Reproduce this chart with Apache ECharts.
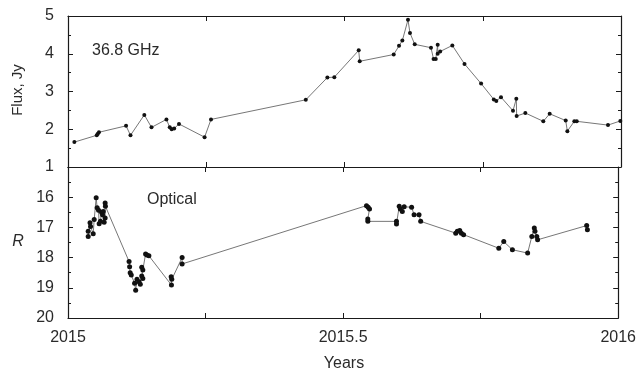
<!DOCTYPE html>
<html>
<head>
<meta charset="utf-8">
<script src="https://cdn.jsdelivr.net/npm/echarts@6/dist/echarts.min.js"></script>
<style>
  html, body { margin: 0; padding: 0; background: #fff; }
  #chart { width: 639px; height: 373px; }
</style>
</head>
<body>
<div id="chart"></div>
<script>
// 36.8 GHz flux density (Jy)
const fluxYears = [
  2015.0115, 2015.052, 2015.054, 2015.056, 2015.105, 2015.113, 2015.138, 2015.151,
  2015.178, 2015.184, 2015.1875, 2015.192, 2015.2007, 2015.247, 2015.2586,
  2015.430, 2015.469, 2015.4816, 2015.5257, 2015.5275, 2015.589, 2015.5986,
  2015.6046, 2015.6148, 2015.6184, 2015.627, 2015.6564, 2015.661, 2015.665,
  2015.6685, 2015.6685, 2015.673, 2015.695, 2015.717, 2015.747, 2015.770,
  2015.7745, 2015.783, 2015.8047, 2015.8107, 2015.8113, 2015.827, 2015.8595,
  2015.871, 2015.900, 2015.903, 2015.9156, 2015.920, 2015.9765, 2015.9988
];
const fluxJy = [
  1.66, 1.84, 1.88, 1.92, 2.09, 1.84, 2.38, 2.05,
  2.26, 2.05, 2.00, 2.02, 2.14, 1.79, 2.26,
  2.78, 3.37, 3.38, 4.09, 3.80, 3.98, 4.21,
  4.35, 4.90, 4.55, 4.25, 4.16, 3.86, 3.86,
  4.24, 4.00, 4.06, 4.22, 3.73, 3.21, 2.79,
  2.75, 2.85, 2.49, 2.81, 2.35, 2.43, 2.21,
  2.41, 2.23, 1.95, 2.21, 2.21, 2.11, 2.22
];

// optical R magnitude
const optYears = [
  2015.0367, 2015.0367, 2015.040, 2015.041, 2015.0458, 2015.0476, 2015.0512, 2015.053,
  2015.0555, 2015.0566, 2015.059, 2015.061, 2015.0627, 2015.0657, 2015.064, 2015.0675,
  2015.0675, 2015.068,
  2015.111, 2015.112, 2015.113, 2015.115, 2015.121, 2015.123, 2015.1254, 2015.129,
  2015.1314, 2015.134, 2015.136, 2015.134, 2015.136, 2015.141, 2015.1434, 2015.147,
  2015.188, 2015.1875, 2015.1886, 2015.2074, 2015.2074,
  2015.5425, 2015.5455, 2015.548, 2015.5449, 2015.545,
  2015.597, 2015.597, 2015.602, 2015.604, 2015.6076, 2015.611, 2015.6245, 2015.629,
  2015.638, 2015.641,
  2015.7047, 2015.7076, 2015.712, 2015.715, 2015.719,
  2015.783, 2015.792, 2015.8077, 2015.8354, 2015.843, 2015.8475, 2015.8487, 2015.852,
  2015.8535, 2015.9427, 2015.944
];
const optR = [
  17.13, 17.30, 16.85, 16.97, 17.21, 16.74, 16.02, 16.35,
  16.43, 16.88, 16.80, 16.50, 16.58, 16.83, 16.47, 16.69,
  16.19, 16.30,
  18.13, 18.30, 18.50, 18.58, 18.85, 19.08, 18.72, 18.80,
  18.88, 18.61, 18.69, 18.32, 18.41, 17.88, 17.91, 17.94,
  18.91, 18.63, 18.72, 18.00, 18.21,
  16.28, 16.33, 16.39, 16.72, 16.80,
  16.80, 16.89, 16.30, 16.39, 16.47, 16.32, 16.33, 16.58,
  16.58, 16.80,
  17.19, 17.13, 17.10, 17.19, 17.24,
  17.69, 17.47, 17.74, 17.85, 17.30, 17.02, 17.13, 17.30,
  17.41, 16.94, 17.08
];

const xTickLabels = { 2015: '2015', 2015.5: '2015.5', 2016: '2016' };

const fluxData = fluxYears.map((x, i) => [x, fluxJy[i]]);
const optData = optYears.map((x, i) => [x, optR[i]]);

const chart = echarts.init(document.getElementById('chart'), null, { renderer: 'canvas' });

const font = 'Liberation Sans, Arial, sans-serif';
const frameLine = { show: true, onZero: false, lineStyle: { color: '#1a1a1a', width: 1.2 } };
const inTick = { show: true, inside: true, length: 5, lineStyle: { color: '#1a1a1a' } };
const minor = { show: true, splitNumber: 2, length: 3, lineStyle: { color: '#1a1a1a' } };

function xAxisFor(gridIndex, position, withLabels) {
  return {
    type: 'value', gridIndex, position, min: 2015, max: 2016, interval: 0.25,
    axisLine: frameLine, axisTick: inTick, splitLine: { show: false },
    axisLabel: withLabels ? {
      show: true, fontSize: 16, margin: 12, fontFamily: font, color: '#2a2a2a',
      formatter: v => xTickLabels[Math.round(v * 100) / 100] || ''
    } : { show: false }
  };
}

function yAxisFor(gridIndex, position, min, max, inverse, withLabels, skip) {
  return {
    type: 'value', gridIndex, position, min, max, interval: 1, inverse,
    axisLine: frameLine, axisTick: inTick, minorTick: minor, splitLine: { show: false },
    axisLabel: withLabels ? {
      show: true, fontSize: 16, margin: 14, fontFamily: font, color: '#2a2a2a',
      formatter: v => (v === skip ? '' : String(v))
    } : { show: false }
  };
}

const option = {
  animation: false,
  backgroundColor: '#fff',
  grid: [
    { left: 68, top: 16, width: 553, height: 151 },
    { left: 68, top: 167, width: 553, height: 151 }
  ],
  xAxis: [
    xAxisFor(0, 'bottom', false),
    xAxisFor(0, 'top', false),
    xAxisFor(1, 'bottom', true),
    xAxisFor(1, 'top', false)
  ],
  yAxis: [
    yAxisFor(0, 'left', 1, 5, false, true, null),
    yAxisFor(0, 'right', 1, 5, false, false, null),
    yAxisFor(1, 'left', 15, 20, true, true, 15),
    yAxisFor(1, 'right', 15, 20, true, false, 15)
  ],
  series: [
    {
      type: 'line', xAxisIndex: 0, yAxisIndex: 0, data: fluxData,
      symbol: 'circle', symbolSize: 4,
      itemStyle: { color: '#111' },
      lineStyle: { color: '#777', width: 1 }
    },
    {
      type: 'line', xAxisIndex: 2, yAxisIndex: 2, data: optData,
      symbol: 'circle', symbolSize: 5,
      itemStyle: { color: '#111' },
      lineStyle: { color: '#777', width: 1 }
    }
  ],
  graphic: [
    { type: 'text', left: 92, top: 43, style: { text: '36.8 GHz', fontSize: 16, fill: '#2a2a2a', fontFamily: font } },
    { type: 'text', left: 147, top: 192, style: { text: 'Optical', fontSize: 16, fill: '#2a2a2a', fontFamily: font } },
    { type: 'text', x: 18, y: 90, rotation: Math.PI / 2, style: { text: 'Flux, Jy', fontSize: 15, fill: '#2a2a2a', align: 'center', verticalAlign: 'middle', fontFamily: font } },
    { type: 'text', x: 18, y: 242, style: { text: 'R', fontSize: 16, fontStyle: 'italic', fill: '#2a2a2a', align: 'center', verticalAlign: 'middle', fontFamily: font } },
    { type: 'text', x: 344, y: 364, style: { text: 'Years', fontSize: 16, fill: '#2a2a2a', align: 'center', verticalAlign: 'middle', fontFamily: font } }
  ]
};

chart.setOption(option);
</script>
</body>
</html>
